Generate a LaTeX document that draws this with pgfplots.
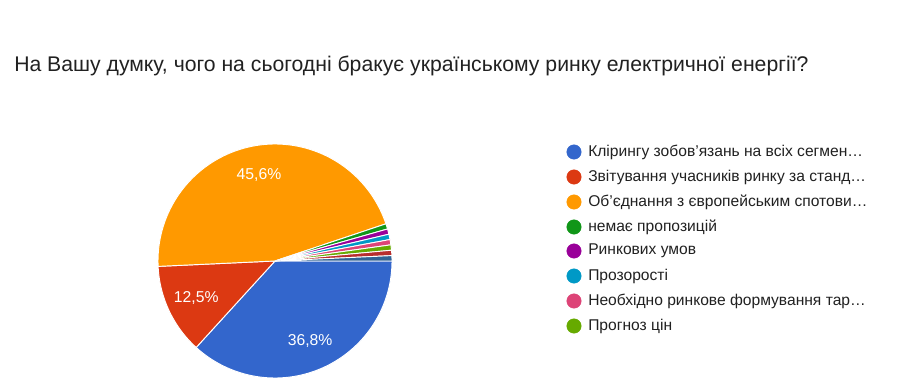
\documentclass[border=0pt]{standalone}
\usepackage{fontspec}
\setmainfont{Liberation Sans}
\usepackage{pgfplots}
\usepackage{pgfplotstable}
\pgfplotsset{compat=1.18}
\definecolor{c0}{HTML}{3366CC}
\definecolor{c1}{HTML}{DC3912}
\definecolor{c2}{HTML}{FF9900}
\definecolor{c3}{HTML}{109618}
\definecolor{c4}{HTML}{990099}
\definecolor{c5}{HTML}{0099C6}
\definecolor{c6}{HTML}{DD4477}
\definecolor{c7}{HTML}{66AA00}
\definecolor{c8}{HTML}{B82E2E}
\definecolor{c9}{HTML}{316395}
\definecolor{txt}{HTML}{212121}
\pgfplotstableread{
count col
50 c0
17 c1
62 c2
1 c3
1 c4
1 c5
1 c6
1 c7
1 c8
1 c9
}\piedata
\def\tot{0}%
\pgfplotsforeachungrouped \i in {0,...,9}{%
  \pgfplotstablegetelem{\i}{count}\of\piedata
  \pgfmathsetmacro\tot{\tot+\pgfplotsretval}%
}%
\begin{document}%
\begin{tikzpicture}
\begin{axis}[
  x=0.75pt, y=0.75pt,
  xmin=0, xmax=907, ymin=0, ymax=386,
  hide axis, clip=false, enlargelimits=false,
  scale only axis,
]
\fill[white] (axis cs:0,0) rectangle (axis cs:907,386);
\def\cum{0}
\pgfplotsforeachungrouped \i in {0,...,9}{%
  \pgfplotstablegetelem{\i}{count}\of\piedata
  \let\sv\pgfplotsretval
  \pgfplotstablegetelem{\i}{col}\of\piedata
  \let\scol\pgfplotsretval
  \pgfmathsetmacro\sa{-360*(\cum/\tot)}%
  \pgfmathsetmacro\cum{\cum+\sv}%
  \pgfmathsetmacro\sb{-360*(\cum/\tot)}%
  \edef\temp{\noexpand\addplot[fill=\scol, draw=white, line width=0.7pt, domain=\sb:\sa, samples=80]
    ({275+117*cos(x)},{125+117*sin(x)}) -- (axis cs:275,125) -- cycle;}%
  \temp
  \pgfmathsetmacro\pct{100*(\sv/\tot)}%
  \pgfmathparse{\pct>5?1:0}%
  \ifnum\pgfmathresult=1
    \pgfmathsetmacro\smid{(\sa+\sb)/2}%
    \pgfmathsetmacro\lx{275+87*cos(\smid)}%
    \pgfmathsetmacro\ly{125+87*sin(\smid)}%
    \pgfmathprintnumberto[fixed,precision=1,fixed zerofill,use comma,assume math mode=true]{\pct}{\pcttxt}%
    \edef\temp{\noexpand\node[text=white,font=\noexpand\fontsize{11.8pt}{13pt}\noexpand\selectfont] at (axis cs:\lx,\ly) {\pcttxt\noexpand\%};}%
    \temp
  \fi
}
% legend
\addplot[only marks, mark=*, mark size=5.4pt, c0] coordinates {(574,234)};
\addplot[only marks, mark=*, mark size=5.4pt, c1] coordinates {(574,209)};
\addplot[only marks, mark=*, mark size=5.4pt, c2] coordinates {(574,184)};
\addplot[only marks, mark=*, mark size=5.4pt, c3] coordinates {(574,159)};
\addplot[only marks, mark=*, mark size=5.4pt, c4] coordinates {(574,135)};
\addplot[only marks, mark=*, mark size=5.4pt, c5] coordinates {(574,110)};
\addplot[only marks, mark=*, mark size=5.4pt, c6] coordinates {(574,85)};
\addplot[only marks, mark=*, mark size=5.4pt, c7] coordinates {(574,60)};
\begin{scope}[every node/.style={anchor=west, text=txt, inner sep=0pt, font=\fontsize{11.7pt}{13pt}\selectfont}]
\node at (axis cs:588,234) {Клірингу зобов’язань на всіх сегмен…};
\node at (axis cs:588,209) {Звітування учасників ринку за станд…};
\node at (axis cs:588,184) {Об'єднання з європейським спотови…};
\node at (axis cs:588,159) {немає пропозицій};
\node at (axis cs:588,135) {Ринкових умов};
\node at (axis cs:588,110) {Прозорості};
\node at (axis cs:588,85) {Необхідно ринкове формування тар…};
\node at (axis cs:588,60) {Прогноз цін};
\end{scope}
\node[anchor=base west, inner sep=0pt, text=txt, font=\fontsize{15.9pt}{19pt}\selectfont] at (axis cs:14,314) {На Вашу думку, чого на сьогодні бракує українському ринку електричної енергії?};
\end{axis}
\end{tikzpicture}%
\end{document}
